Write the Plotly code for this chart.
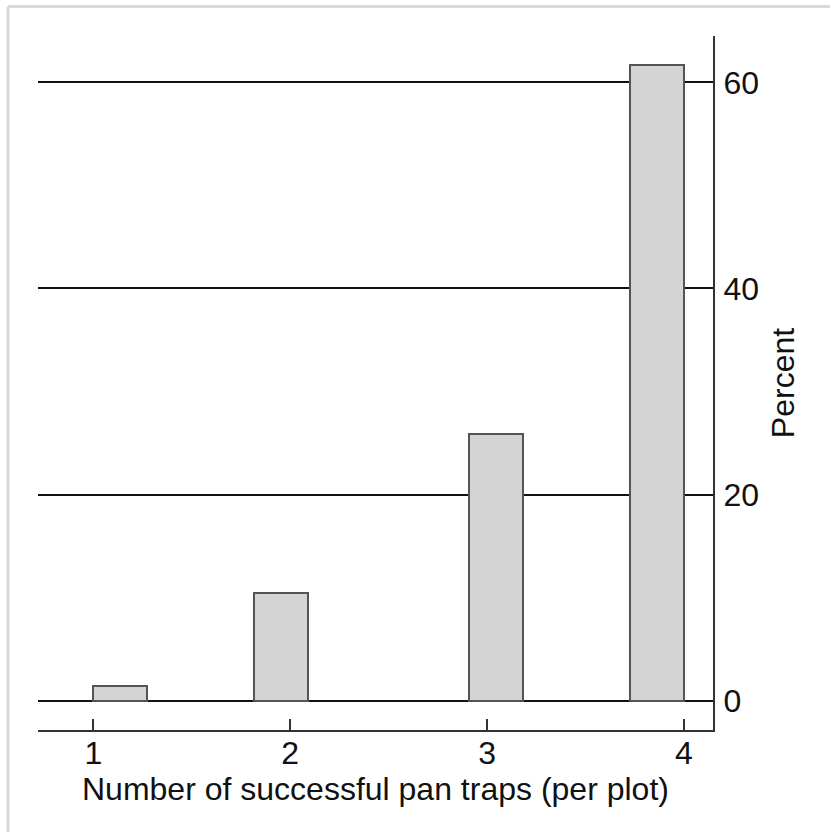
import math
import plotly.graph_objects as go

# Number of successful pan traps per plot and the share of plots (percent)
trap_counts = [1, 2, 3, 4]
percent_plots = [1.4, 10.5, 25.9, 61.7]

# Histogram binning: 11 equal-width bins spanning 1..4
n_bins = 11
x_min, x_max = 1, 4
bin_width = (x_max - x_min) / n_bins

bar_centers = []
for v in trap_counts:
    idx = min(int(math.floor((v - x_min) / bin_width + 1e-9)), n_bins - 1)
    bar_centers.append(x_min + (idx + 0.5) * bin_width)

x_ticks = [1, 2, 3, 4]
y_ticks = [0, 20, 40, 60]

FONT = "Arial, Liberation Sans, Helvetica, sans-serif"
FS = 32

fig = go.Figure()
fig.add_trace(go.Bar(
    x=bar_centers,
    y=percent_plots,
    width=[bin_width] * len(bar_centers),
    marker=dict(color="#d4d4d4", line=dict(color="#545454", width=2)),
    hoverinfo="skip",
))

W, H = 830, 832
L, R, T, B = 38, 117, 36, 102
pw, ph = W - L - R, H - T - B

fig.update_layout(
    width=W, height=H,
    margin=dict(l=L, r=R, t=T, b=B, pad=0),
    paper_bgcolor="white",
    plot_bgcolor="white",
    showlegend=False,
    bargap=0,
    font=dict(family=FONT, color="#111111", size=FS),
    xaxis=dict(
        range=[0.719, 4.148],
        tickvals=x_ticks,
        ticktext=[str(t) for t in x_ticks],
        ticks="inside", ticklen=11, tickwidth=1.5, tickcolor="#333333",
        ticklabelstandoff=-6,
        showline=True, linecolor="#333333", linewidth=2,
        showgrid=False, zeroline=False,
        tickfont=dict(family=FONT, size=FS, color="#111111"),
        fixedrange=True,
    ),
    yaxis=dict(
        side="right",
        range=[-2.84, 64.5],
        tickvals=y_ticks,
        ticktext=[str(t) for t in y_ticks],
        ticks="", ticklabelstandoff=2,
        showline=True, linecolor="#333333", linewidth=2,
        showgrid=True, gridcolor="#111111", gridwidth=2,
        zeroline=False,
        tickfont=dict(family=FONT, size=FS, color="#111111"),
        title=dict(text="Percent",
                   font=dict(family=FONT, size=FS, color="#111111"),
                   standoff=14),
        fixedrange=True,
    ),
)

# x-axis title placed just beneath the tick labels
fig.add_annotation(
    text="Number of successful pan traps (per plot)",
    xref="paper", yref="paper",
    x=0.5, y=(H - B - 789) / ph,
    xanchor="center", yanchor="middle",
    showarrow=False,
    font=dict(family=FONT, size=FS, color="#111111"),
)

# Light grey frame around the graph region (top and left edges visible)
fx0 = (8 - L) / pw
fy0 = (H - B - 6.5) / ph
fig.add_shape(type="line", xref="paper", yref="paper",
              x0=fx0, y0=fy0, x1=(W + 10 - L) / pw, y1=fy0,
              line=dict(color="#d9d9d9", width=3), layer="below")
fig.add_shape(type="line", xref="paper", yref="paper",
              x0=fx0, y0=fy0, x1=fx0, y1=-(B + 10) / ph,
              line=dict(color="#d9d9d9", width=3), layer="below")

fig.write_html("out.html")
